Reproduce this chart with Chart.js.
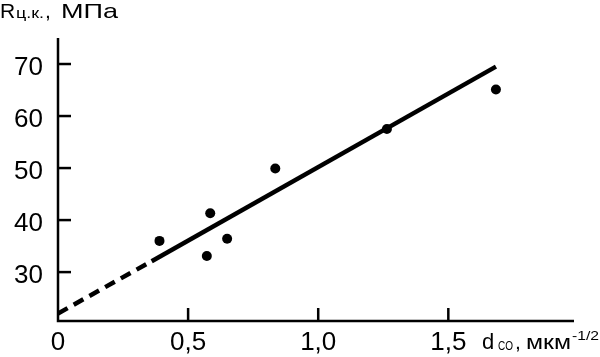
<!DOCTYPE html>
<html>
<head>
<meta charset="utf-8">
<script src="https://cdn.jsdelivr.net/npm/chart.js@4/dist/chart.umd.min.js"></script>
<style>
  html, body { margin: 0; padding: 0; background: #ffffff; }
  #wrap { width: 600px; height: 357px; }
</style>
</head>
<body>
<div id="wrap"><canvas id="c" width="600" height="357"></canvas></div>
<script>
// ---- data ----
const pointX = [0.390, 0.572, 0.585, 0.650, 0.835, 1.264, 1.683];
const pointY = [36.0, 33.1, 41.3, 36.4, 49.9, 57.5, 65.1];
const fitDashX = [0, 0.36];
const fitDashY = [22.05, 32.1];
const fitSolidX = [0.36, 1.683];
const fitSolidY = [32.1, 69.5];
const xTickValues = [0, 0.5, 1.0, 1.5];
const xTickLabels = ["0", "0,5", "1,0", "1,5"];
const yTickValues = [30, 40, 50, 60, 70];
const yTickLabels = ["30", "40", "50", "60", "70"];

const FONT = '"Liberation Sans", Arial, sans-serif';
const toXY = (xs, ys) => xs.map((x, i) => ({ x: x, y: ys[i] }));

function drawStretched(ctx, text, x, baseline, size, width) {
  ctx.save();
  ctx.font = size + 'px ' + FONT;
  ctx.textAlign = 'left';
  ctx.textBaseline = 'alphabetic';
  const w = ctx.measureText(text).width;
  const sx = (width && w > 0) ? width / w : 1;
  ctx.translate(x, baseline);
  ctx.scale(sx, 1);
  ctx.fillText(text, 0, 0);
  ctx.restore();
}

function drawPlain(ctx, text, x, baseline, size) {
  ctx.font = size + 'px ' + FONT;
  ctx.textAlign = 'left';
  ctx.textBaseline = 'alphabetic';
  ctx.fillText(text, x, baseline);
}

const axesPlugin = {
  id: 'axesPlugin',
  afterDatasetsDraw(chart) {
    const ctx = chart.ctx;
    const xs = chart.scales.x, ys = chart.scales.y;
    const left = xs.left, right = xs.right, top = ys.top, bottom = ys.bottom;
    ctx.save();
    ctx.strokeStyle = '#000';
    ctx.fillStyle = '#000';
    ctx.lineWidth = 2.5;
    ctx.lineCap = 'butt';
    ctx.beginPath();
    ctx.moveTo(left, top);
    ctx.lineTo(left, bottom);
    ctx.lineTo(right, bottom);
    ctx.stroke();
    yTickValues.forEach((v, i) => {
      const py = ys.getPixelForValue(v);
      ctx.beginPath();
      ctx.moveTo(left, py);
      ctx.lineTo(left + 13, py);
      ctx.stroke();
      ctx.font = '26px ' + FONT;
      ctx.textAlign = 'right';
      ctx.textBaseline = 'alphabetic';
      ctx.fillText(yTickLabels[i], 43, py + 11.3);
    });
    xTickValues.forEach((v, i) => {
      const px = xs.getPixelForValue(v);
      if (v !== 0) {
        ctx.beginPath();
        ctx.moveTo(px, bottom);
        ctx.lineTo(px, bottom - 13);
        ctx.stroke();
      }
      ctx.font = '26px ' + FONT;
      ctx.textAlign = 'center';
      ctx.textBaseline = 'alphabetic';
      ctx.fillText(xTickLabels[i], px, bottom + 29);
    });
    // y axis title: R ц.к., МПа
    drawPlain(ctx, 'R', 0, 17.5, 21);
    drawStretched(ctx, 'ц.к.', 16, 18, 15, 28);
    drawPlain(ctx, ',', 45, 17.5, 21);
    drawStretched(ctx, 'МПа', 61, 17.5, 21, 57);
    // x axis title: d CO, мкм^-1/2
    drawPlain(ctx, 'd', 482, 349, 22);
    drawStretched(ctx, 'CO', 498, 350, 13, 15);
    drawPlain(ctx, ',', 515, 349, 21);
    drawStretched(ctx, 'мкм', 526, 349, 21, 45);
    drawStretched(ctx, '-1/2', 572, 340, 12, 27);
    ctx.restore();
  }
};

new Chart(document.getElementById('c'), {
  type: 'scatter',
  data: {
    datasets: [
      {
        label: 'fit-dashed',
        data: toXY(fitDashX, fitDashY),
        showLine: true,
        borderColor: '#000',
        borderWidth: 4.5,
        borderDash: [11, 7],
        pointRadius: 0,
        fill: false,
        order: 3
      },
      {
        label: 'fit',
        data: toXY(fitSolidX, fitSolidY),
        showLine: true,
        borderColor: '#000',
        borderWidth: 4.5,
        pointRadius: 0,
        fill: false,
        order: 2
      },
      {
        label: 'points',
        data: toXY(pointX, pointY),
        showLine: false,
        pointRadius: 5,
        pointBackgroundColor: '#000',
        pointBorderColor: '#000',
        pointBorderWidth: 0,
        order: 1
      }
    ]
  },
  options: {
    responsive: false,
    animation: false,
    devicePixelRatio: 1,
    layout: { padding: { left: 58, top: 38, right: 26, bottom: 36 } },
    plugins: { legend: { display: false }, tooltip: { enabled: false } },
    scales: {
      x: { type: 'linear', display: false, min: 0, max: 1.983 },
      y: { type: 'linear', display: false, min: 20.6, max: 75 }
    }
  },
  plugins: [axesPlugin]
});
</script>
</body>
</html>
